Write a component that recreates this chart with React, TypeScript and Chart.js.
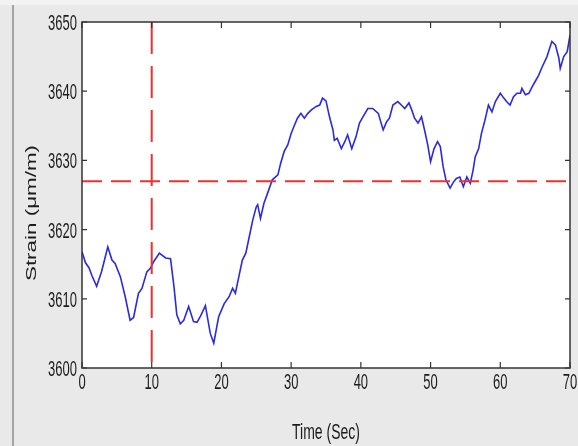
import React, { useEffect, useRef } from "react";
import { Chart, registerables } from "chart.js";

Chart.register(...registerables);

// ---- data ----
const timeSec = [
  0.0, 0.5, 1.0, 1.4, 2.1, 2.8, 3.2, 3.7, 4.3, 4.75, 5.5, 6.2, 6.9, 7.4, 8.1, 8.6, 9.3, 9.8,
  10.3, 11.1, 12.0, 12.7, 13.2, 13.6, 14.1, 14.6, 15.3, 16.0, 16.5, 17.0, 17.7, 18.4, 18.9, 19.6,
  20.4, 21.1, 21.6, 22.0, 22.5, 23.0, 23.5, 24.0, 24.5, 25.0, 25.2, 25.6, 26.1, 26.6, 27.3, 28.1,
  28.5, 29.0, 29.5, 30.0, 30.4, 30.9, 31.4, 31.9, 32.4, 32.9, 33.6, 34.1, 34.5, 35.0, 35.5, 36.0,
  36.2, 36.6, 37.2, 37.7, 38.1, 38.7, 39.3, 39.8, 40.3, 41.0, 41.7, 42.5, 43.2, 43.7, 44.1, 44.6,
  45.3, 45.8, 46.3, 46.9, 47.3, 47.7, 48.2, 48.7, 49.2, 49.6, 50.0, 50.5, 51.0, 51.4, 51.8, 52.2,
  52.8, 53.3, 53.7, 54.2, 54.7, 55.2, 55.7, 56.1, 56.4, 56.9, 57.3, 57.8, 58.3, 58.8, 59.3, 60.0,
  60.5, 60.9, 61.4, 61.9, 62.4, 62.9, 63.1, 63.6, 64.1, 64.6, 65.0, 65.5, 66.0, 66.7, 67.4, 67.9,
  68.4, 68.6, 69.1, 69.6, 70.0,
];

const strainMicro = [
  3616.8, 3615.2, 3614.5, 3613.4, 3611.8, 3613.9, 3615.5, 3617.5, 3615.6, 3615.1, 3613.2, 3610.3,
  3606.9, 3607.3, 3610.8, 3611.5, 3613.9, 3614.4, 3615.4, 3616.6, 3615.9, 3615.8, 3611.7, 3607.7,
  3606.4, 3606.9, 3608.9, 3606.7, 3606.6, 3607.5, 3609.0, 3605.0, 3603.6, 3607.4, 3609.3, 3610.3,
  3611.5, 3610.8, 3613.2, 3615.6, 3616.6, 3619.0, 3621.4, 3623.3, 3623.6, 3621.6, 3623.8, 3625.2,
  3627.2, 3627.9, 3629.6, 3631.3, 3632.2, 3633.9, 3634.9, 3636.1, 3636.8, 3636.1, 3636.8, 3637.3,
  3637.8, 3638.0, 3639.0, 3638.6, 3636.3, 3634.4, 3632.9, 3633.2, 3631.7, 3632.7, 3633.7, 3631.7,
  3633.4, 3635.4, 3636.3, 3637.5, 3637.5, 3636.8, 3634.4, 3635.6, 3636.1, 3638.0, 3638.5, 3638.0,
  3637.5, 3638.3, 3637.3, 3636.1, 3635.4, 3636.3, 3634.1, 3632.2, 3629.8, 3631.7, 3632.7, 3632.0,
  3629.1, 3627.2, 3626.0, 3626.9, 3627.4, 3627.6, 3626.2, 3627.6, 3626.7, 3628.6, 3630.5, 3631.7,
  3633.9, 3635.8, 3638.0, 3637.0, 3638.5, 3639.7, 3639.0, 3638.5, 3638.0, 3639.2, 3639.7, 3639.7,
  3640.4, 3639.5, 3639.7, 3640.7, 3641.4, 3642.3, 3643.5, 3645.0, 3647.2, 3646.7, 3644.8, 3643.3,
  3645.0, 3645.7, 3648.1,
];

const xRange = [0, 70];
const yRange = [3600, 3650];
const xStep = 10;
const yStep = 10;
const thresholdStrain = 3627;
const markerTime = 10;
const xTitle = "Time (Sec)";
const yTitle = "Strain (\u03bcm/m)";

// ---- styling helpers ----
const FAMILY = '"Liberation Sans", Arial, "DejaVu Sans", sans-serif';
const TEXT_COLOR = "#1c1c1c";

function drawStretched(
  ctx: CanvasRenderingContext2D,
  text: string,
  x: number,
  y: number,
  align: CanvasTextAlign,
  size: number,
  stretch: number,
  rotated = false
) {
  ctx.save();
  ctx.translate(x, y);
  ctx.scale(1, stretch);
  if (rotated) ctx.rotate(-Math.PI / 2);
  ctx.font = `${size}px ${FAMILY}`;
  ctx.fillStyle = TEXT_COLOR;
  ctx.textAlign = align;
  ctx.textBaseline = "alphabetic";
  ctx.fillText(text, 0, 0);
  ctx.restore();
}

const framePlugin = {
  id: "matlabFrame",
  beforeDraw(chart: any) {
    const { ctx, chartArea, width, height } = chart;
    ctx.save();
    ctx.fillStyle = "#e9e9e9";
    ctx.fillRect(0, 0, width, height);
    ctx.fillStyle = "#f3f3f3";
    ctx.fillRect(0, 0, width, 5);
    ctx.strokeStyle = "#8c8c8c";
    ctx.lineWidth = 1.5;
    ctx.beginPath();
    ctx.moveTo(13, 5);
    ctx.lineTo(13, height);
    ctx.stroke();
    ctx.fillStyle = "#ffffff";
    ctx.fillRect(chartArea.left, chartArea.top, chartArea.right - chartArea.left, chartArea.bottom - chartArea.top);
    ctx.restore();
  },
  afterDraw(chart: any) {
    const { ctx, chartArea } = chart;
    const { left, right, top, bottom } = chartArea;
    const xs = chart.scales.x;
    const ys = chart.scales.y;
    ctx.save();
    ctx.strokeStyle = "#333333";
    ctx.lineWidth = 1.5;
    ctx.strokeRect(left, top, right - left, bottom - top);
    ctx.lineWidth = 1.2;
    ctx.beginPath();
    xs.ticks.forEach((t: any) => {
      const px = xs.getPixelForValue(t.value);
      ctx.moveTo(px, bottom);
      ctx.lineTo(px, bottom - 6);
      ctx.moveTo(px, top);
      ctx.lineTo(px, top + 6);
    });
    ys.ticks.forEach((t: any) => {
      const py = ys.getPixelForValue(t.value);
      ctx.moveTo(left, py);
      ctx.lineTo(left + 5, py);
      ctx.moveTo(right, py);
      ctx.lineTo(right - 5, py);
    });
    ctx.stroke();
    ctx.restore();

    xs.ticks.forEach((t: any) => {
      const px = xs.getPixelForValue(t.value);
      drawStretched(ctx, String(t.value), px, bottom + 21, "center", 13, 1.75);
    });
    ys.ticks.forEach((t: any) => {
      const py = ys.getPixelForValue(t.value);
      drawStretched(ctx, String(t.value), left - 5, py + 8, "right", 13, 1.75);
    });
    drawStretched(ctx, xTitle, (left + right) / 2, 439, "center", 14, 1.6);
    drawStretched(ctx, yTitle, 36, 213, "center", 14, 1.6, true);
  },
};

export default function App() {
  const canvasRef = useRef<HTMLCanvasElement | null>(null);

  useEffect(() => {
    if (!canvasRef.current) return;
    const strainPoints = timeSec.map((t, i) => ({ x: t, y: strainMicro[i] }));
    const chart = new Chart(canvasRef.current, {
      type: "line",
      data: {
        datasets: [
          {
            label: "Threshold",
            data: [
              { x: xRange[0], y: thresholdStrain },
              { x: xRange[1], y: thresholdStrain },
            ],
            borderColor: "rgb(232, 52, 48)",
            borderWidth: 2,
            borderDash: [20, 9],
            pointRadius: 0,
            tension: 0,
          },
          {
            label: "Marker",
            data: [
              { x: markerTime, y: yRange[1] },
              { x: markerTime, y: yRange[0] },
            ],
            borderColor: "rgb(232, 52, 48)",
            borderWidth: 2,
            borderDash: [32, 12],
            pointRadius: 0,
            tension: 0,
          },
          {
            label: "Strain",
            data: strainPoints,
            borderColor: "rgb(42, 42, 222)",
            borderWidth: 1.6,
            pointRadius: 0,
            tension: 0,
          },
        ],
      },
      options: {
        responsive: false,
        maintainAspectRatio: false,
        animation: false,
        devicePixelRatio: 1,
        layout: { padding: { top: 22, right: 8, left: 0, bottom: 0 } },
        plugins: {
          legend: { display: false },
          tooltip: { enabled: false },
          title: { display: false },
        },
        scales: {
          x: {
            type: "linear",
            min: xRange[0],
            max: xRange[1],
            ticks: { display: false, stepSize: xStep },
            grid: { display: false },
            border: { display: false },
            afterFit: (scale: any) => {
              scale.height = 78;
            },
          },
          y: {
            type: "linear",
            min: yRange[0],
            max: yRange[1],
            ticks: { display: false, stepSize: yStep },
            grid: { display: false },
            border: { display: false },
            afterFit: (scale: any) => {
              scale.width = 82;
            },
          },
        },
      },
      plugins: [framePlugin],
    });
    return () => chart.destroy();
  }, []);

  return (
    <div style={{ position: "fixed", left: 0, top: 0, width: 578, height: 446 }}>
      <canvas ref={canvasRef} width={578} height={446} style={{ display: "block" }} />
    </div>
  );
}
